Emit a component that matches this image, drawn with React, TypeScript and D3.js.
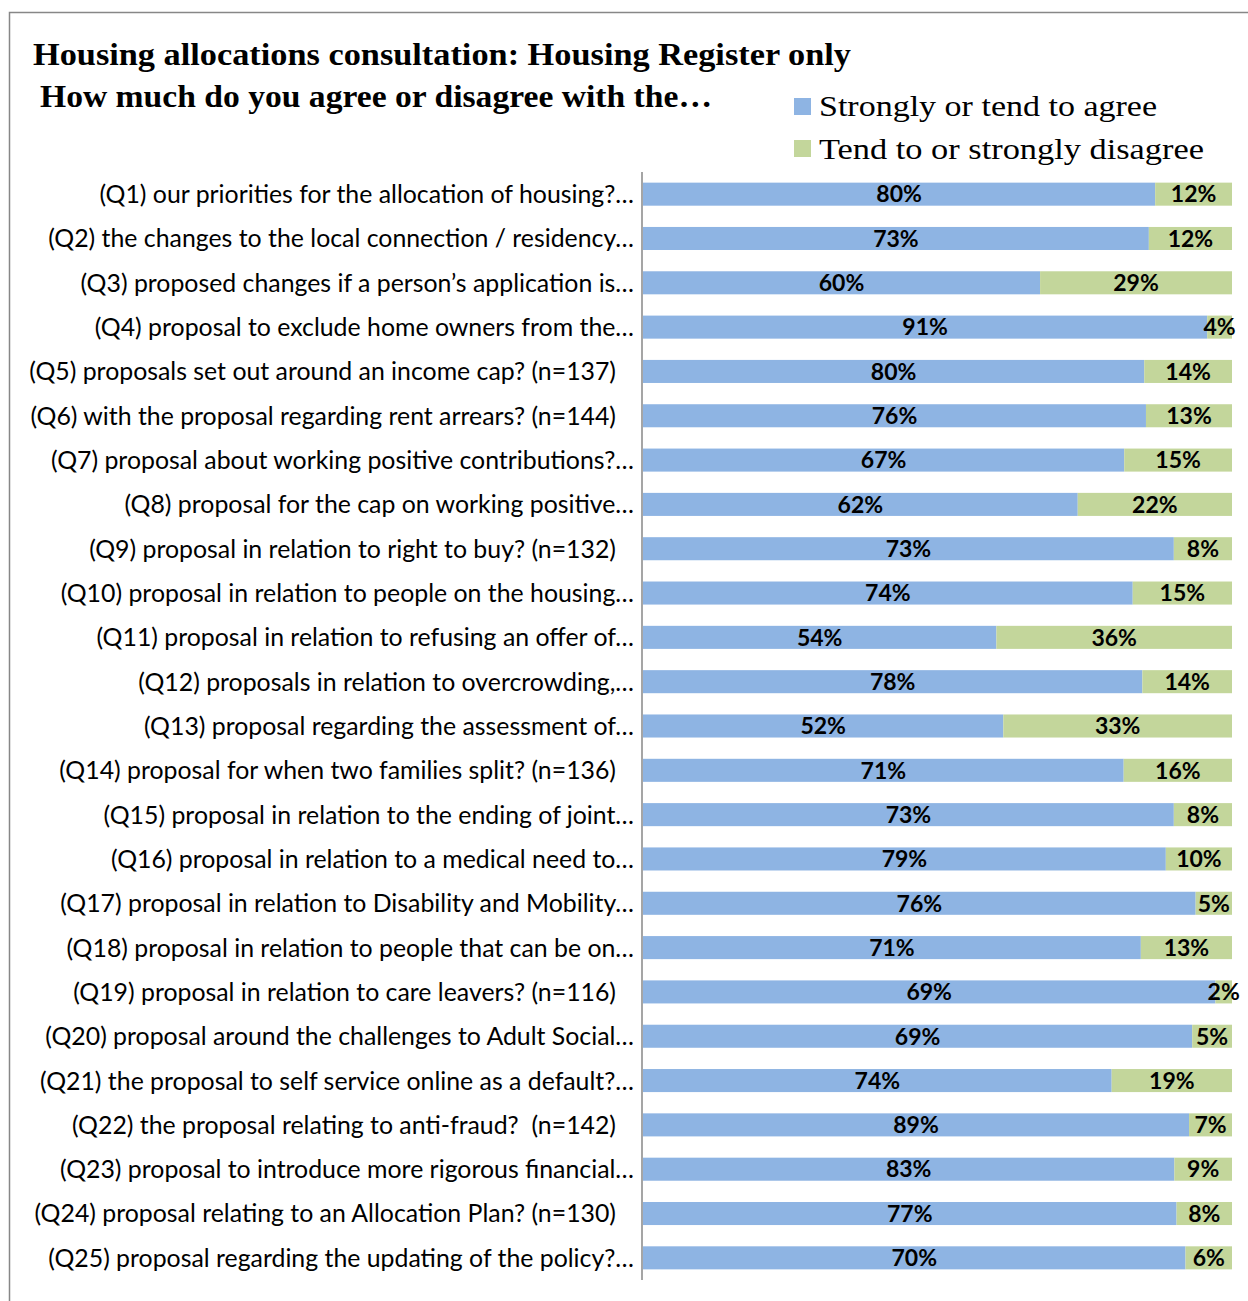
import React from "react";
import * as d3 from "d3";

const categories: string[] = [
  "(Q1) our priorities for the allocation of housing?…",
  "(Q2) the changes to the local connection / residency…",
  "(Q3) proposed changes if a person’s application is…",
  "(Q4) proposal to exclude home owners from the…",
  "(Q5) proposals set out around an income cap? (n=137)",
  "(Q6) with the proposal regarding rent arrears? (n=144)",
  "(Q7) proposal about working positive contributions?…",
  "(Q8) proposal for the cap on working positive…",
  "(Q9) proposal in relation to right to buy? (n=132)",
  "(Q10) proposal in relation to people on the housing…",
  "(Q11) proposal in relation to refusing an offer of…",
  "(Q12) proposals in relation to overcrowding,…",
  "(Q13) proposal regarding the assessment of…",
  "(Q14) proposal for when two families split? (n=136)",
  "(Q15) proposal in relation to the ending of joint…",
  "(Q16) proposal in relation to a medical need to…",
  "(Q17) proposal in relation to Disability and Mobility…",
  "(Q18) proposal in relation to people that can be on…",
  "(Q19) proposal in relation to care leavers? (n=116)",
  "(Q20) proposal around the challenges to Adult Social…",
  "(Q21) the proposal to self service online as a default?…",
  "(Q22) the proposal relating to anti-fraud?  (n=142)",
  "(Q23) proposal to introduce more rigorous financial…",
  "(Q24) proposal relating to an Allocation Plan? (n=130)",
  "(Q25) proposal regarding the updating of the policy?…",
];

const agree: number[] = [80, 73, 60, 91, 80, 76, 67, 62, 73, 74, 54, 78, 52, 71, 73, 79, 76, 71, 69, 69, 74, 89, 83, 77, 70];
const disagree: number[] = [12, 12, 29, 4, 14, 13, 15, 22, 8, 15, 36, 14, 33, 16, 8, 10, 5, 13, 2, 5, 19, 7, 9, 8, 6];

const seriesNames: string[] = ["Strongly or tend to agree", "Tend to or strongly disagree"];
const seriesColors: string[] = ["#8EB4E3", "#C3D69B"];

const titleLines: string[] = [
  "Housing allocations consultation: Housing Register only",
  "How much do you agree or disagree with the…",
];

const W = 1248;
const H = 1301;

export default function App() {
  const plotLeft = 643;
  const plotRight = 1232;
  const plotTop = 172;
  const plotBottom = 1280;
  const axisX = 642;

  const x = d3.scaleLinear().domain([0, 1]).range([plotLeft, plotRight]);
  const y = d3
    .scaleBand<string>()
    .domain(categories)
    .range([plotTop, plotBottom])
    .paddingInner(0.48)
    .paddingOuter(0.24);

  const rows = categories.map((c, i) => {
    const total = agree[i] + disagree[i];
    const stack = [
      { v: agree[i], s: 0, e: agree[i] / total },
      { v: disagree[i], s: agree[i] / total, e: 1 },
    ];
    return { c, stack };
  });

  const labelFont = "Lato, 'Open Sans', sans-serif";
  const serif = "'Liberation Serif', 'DejaVu Serif', serif";

  return (
    <svg
      width={W}
      height={H}
      style={{ position: "absolute", left: 0, top: 0, background: "#fff" }}
    >
      <rect x={0} y={0} width={W} height={H} fill="#fff" />
      <rect x={9.5} y={12.5} width={W + 50} height={H + 50} fill="none" stroke="#878787" strokeWidth={1.5} />

      {/* Titles */}
      <text x={33} y={65} fontFamily={serif} fontWeight="bold" fontSize={31} fill="#000" textLength={818} lengthAdjust="spacingAndGlyphs">
        {titleLines[0]}
      </text>
      <text x={40} y={107} fontFamily={serif} fontWeight="bold" fontSize={31} fill="#000" textLength={672} lengthAdjust="spacingAndGlyphs">
        {titleLines[1]}
      </text>

      {/* Legend */}
      {seriesNames.map((n, i) => (
        <g key={n}>
          <rect x={794} y={98 + i * 42} width={17} height={17} fill={seriesColors[i]} />
          <text
            x={819}
            y={116 + i * 43}
            fontFamily={serif}
            fontSize={30}
            fill="#000"
            textLength={i === 0 ? 338 : 385}
            lengthAdjust="spacingAndGlyphs"
          >
            {n}
          </text>
        </g>
      ))}

      {/* Bars */}
      {rows.map((r) => (
        <g key={r.c}>
          {r.stack.map((seg, j) => (
            <rect
              key={j}
              x={x(seg.s)}
              y={y(r.c)!}
              width={x(seg.e) - x(seg.s)}
              height={y.bandwidth()}
              fill={seriesColors[j]}
            />
          ))}
          {r.stack.map((seg, j) => (
            <text
              key={"l" + j}
              x={(x(seg.s) + x(seg.e)) / 2}
              y={y(r.c)! + y.bandwidth() / 2}
              dy="0.36em"
              textAnchor="middle"
              fontFamily={labelFont}
              fontWeight="bold"
              fontSize={23}
              fill="#000"
            >
              {seg.v + "%"}
            </text>
          ))}
          <text
            x={r.c.endsWith("…") ? axisX - 8 : axisX - 26}
            y={y(r.c)! + y.bandwidth() / 2}
            dy="0.36em"
            textAnchor="end"
            fontFamily={labelFont}
            fontSize={24.85}
            fill="#000"
            style={{ whiteSpace: "pre" }}
          >
            {r.c}
          </text>
        </g>
      ))}

      {/* Axis line */}
      <line x1={axisX} x2={axisX} y1={plotTop} y2={plotBottom} stroke="#878787" strokeWidth={1.5} />
    </svg>
  );
}
